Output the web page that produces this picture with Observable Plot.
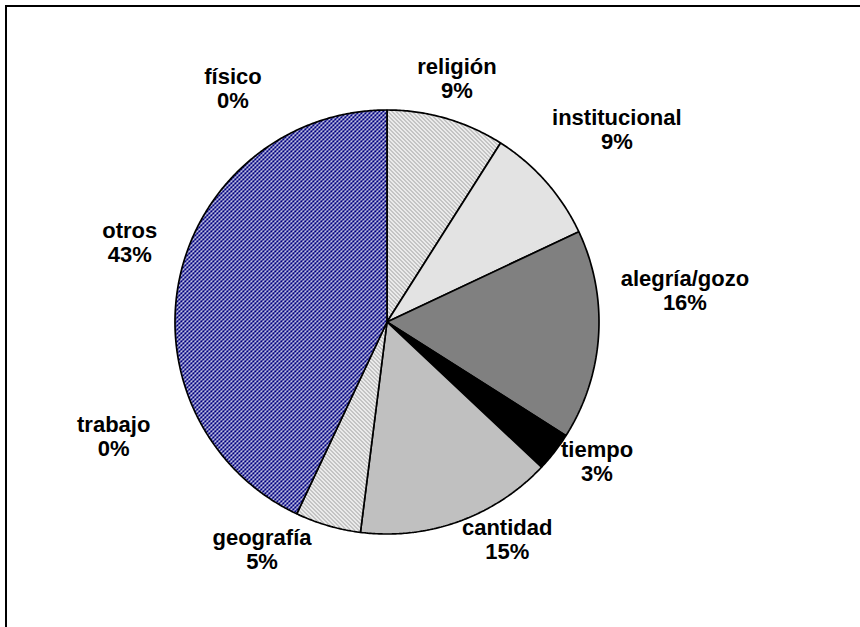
<!DOCTYPE html>
<html>
<head>
<meta charset="utf-8">
<script src="https://cdn.jsdelivr.net/npm/d3@7"></script>
<script src="https://cdn.jsdelivr.net/npm/@observablehq/plot@0.6"></script>
<style>
  html, body { margin: 0; padding: 0; background: #fff; overflow: hidden; }
  #chart { position: relative; width: 860px; height: 627px; }
  #chart svg { display: block; }
  .chart-border {
    position: absolute; left: 5px; top: 5px; width: 900px; height: 700px;
    border-top: 2px solid #000; border-left: 2px solid #000; pointer-events: none;
  }
</style>
</head>
<body>
<div id="chart"><div class="chart-border"></div></div>
<script>
// Categories, clockwise from 12 o'clock, and their shares (%)
const categories = ["religión", "institucional", "alegría/gozo", "tiempo", "cantidad", "geografía", "trabajo", "otros", "físico"];
const shares = [9, 9, 16, 3, 15, 5, 0, 43, 0];
const shareLabels = shares.map(v => `${v}%`);

// Slice fills (patterns are defined in <defs> below)
const sliceFill = {
  "religión": "url(#diag)",
  "institucional": "#e3e3e3",
  "alegría/gozo": "#808080",
  "tiempo": "#000000",
  "cantidad": "#c0c0c0",
  "geografía": "url(#diag)",
  "trabajo": "none",
  "otros": "url(#checker)",
  "físico": "none"
};

// Hand-placed label offsets (px) from the point at 1.2 × radius on each slice's mid-angle
const labelNudge = {
  "religión": [-1, 1],
  "institucional": [39, -24],
  "alegría/gozo": [44, -48],
  "tiempo": [9, -17],
  "cantidad": [34, -22],
  "geografía": [-54, -17],
  "trabajo": [-165, -116],
  "otros": [-9, -24],
  "físico": [-154, 21]
};

const cx = 386.5, cy = 321.5, r = 212;

const arcs = d3.pie().sort(null).value(d => d)(shares);

// Polygon outline of every non-empty slice, in unit-circle coordinates
const slicePoints = [];
arcs.forEach((a, i) => {
  if (a.value <= 0) return;
  const name = categories[i];
  const n = Math.max(2, Math.ceil((a.endAngle - a.startAngle) / (Math.PI / 360)));
  slicePoints.push({name, x: 0, y: 0});
  for (let k = 0; k <= n; k++) {
    const t = a.startAngle + (a.endAngle - a.startAngle) * k / n;
    slicePoints.push({name, x: Math.sin(t), y: Math.cos(t)});
  }
  slicePoints.push({name, x: 0, y: 0});
});

const labelRows = arcs.map((a, i) => {
  const mid = (a.startAngle + a.endAngle) / 2;
  return {
    name: categories[i],
    text: `${categories[i]}\n${shareLabels[i]}`,
    x: 1.2 * Math.sin(mid),
    y: 1.2 * Math.cos(mid)
  };
});

// Fill patterns: gray downward diagonal and navy checkerboard (pixel-aligned tiles)
function patternDefs() {
  const ns = "http://www.w3.org/2000/svg";
  const g = document.createElementNS(ns, "g");
  let diag = "", checker = "";
  for (let y = 0; y < 8; y++) {
    for (let x = 0; x < 8; x++) {
      const m = (x - y + 8) % 4;
      if (m === 0 || m === 1) diag += `<rect x="${x}" y="${y}" width="1" height="1"/>`;
      const navyCell = ((x >> 1) + (y >> 1)) % 2 === 0;
      const cornerDot = !navyCell && (x % 2 === 1) && (y % 2 === 1);
      if (navyCell || cornerDot) checker += `<rect x="${x}" y="${y}" width="1" height="1"/>`;
    }
  }
  g.innerHTML = `
    <defs>
      <pattern id="diag" width="8" height="8" patternUnits="userSpaceOnUse">
        <rect width="8" height="8" fill="#ffffff"/>
        <g fill="#b0b0b0" shape-rendering="crispEdges">${diag}</g>
      </pattern>
      <pattern id="checker" width="8" height="8" patternUnits="userSpaceOnUse">
        <rect width="8" height="8" fill="#ffffff"/>
        <g fill="#000080" shape-rendering="crispEdges">${checker}</g>
      </pattern>
    </defs>`;
  return g;
}

const plot = Plot.plot({
  width: 860,
  height: 627,
  x: {domain: [-1, 1], range: [cx - r, cx + r], axis: null},
  y: {domain: [-1, 1], range: [cy + r, cy - r], axis: null},
  color: {type: "identity"},
  style: {fontFamily: "'Liberation Sans', Arial, sans-serif", background: "#fff"},
  marks: [
    patternDefs,
    Plot.line(slicePoints, {
      x: "x", y: "y", z: "name",
      fill: d => sliceFill[d.name],
      stroke: "#000", strokeWidth: 1.7, strokeLinejoin: "miter", curve: "linear"
    }),
    ...labelRows.map(d => Plot.text([d], {
      x: "x", y: "y", text: "text",
      dx: labelNudge[d.name][0], dy: labelNudge[d.name][1],
      fontSize: 22, fontWeight: "bold", fill: "#000", lineHeight: 1.09, textAnchor: "middle"
    }))
  ]
});

document.getElementById("chart").prepend(plot);
</script>
</body>
</html>
